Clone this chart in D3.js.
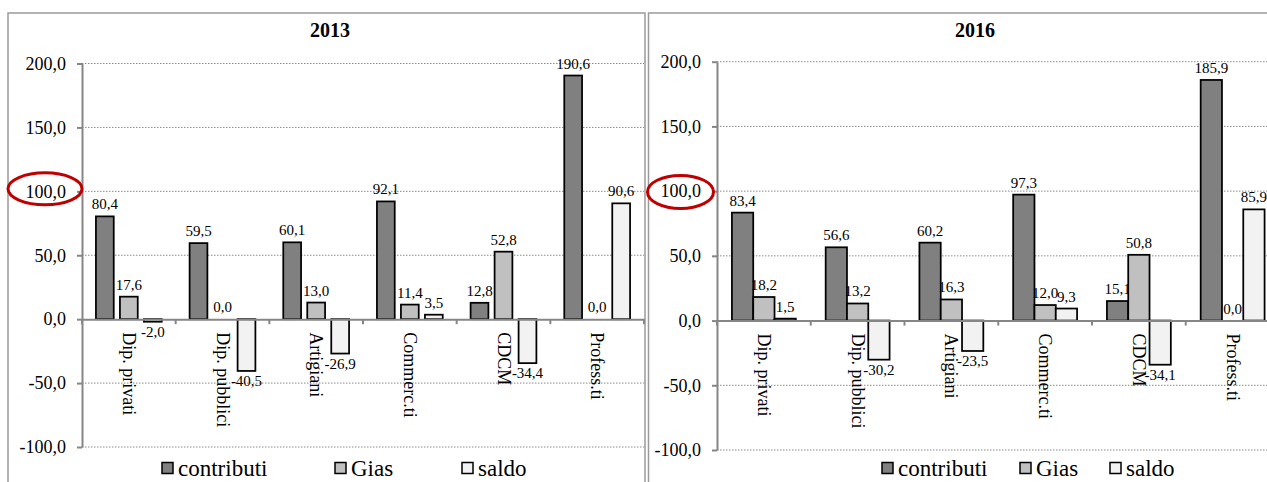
<!DOCTYPE html>
<html><head><meta charset="utf-8">
<script src="https://cdn.jsdelivr.net/npm/d3@7"></script>
<style>body{margin:0;background:#fff}svg{display:block;font-family:'Liberation Serif','Times New Roman',serif}</style>
</head><body><svg id="c" width="1267" height="482"></svg>
<script>
// ---- data ----
const categories = ["Dip. privati","Dip. pubblici","Artigiani","Commerc.ti","CDCM","Profess.ti"];
const seriesNames = ["contributi","Gias","saldo"];
const contributi2013 = [80.4,59.5,60.1,92.1,12.8,190.6];
const gias2013 = [17.6,0.0,13.0,11.4,52.8,0.0];
const saldo2013 = [-2.0,-40.5,-26.9,3.5,-34.4,90.6];
const contributi2016 = [83.4,56.6,60.2,97.3,15.1,185.9];
const gias2016 = [18.2,13.2,16.3,12.0,50.8,0.0];
const saldo2016 = [1.5,-30.2,-23.5,9.3,-34.1,85.9];
const yTicks = [-100,-50,0,50,100,150,200];
const panelTitles = ["2013","2016"];
const highlightTick = 100;

// ---- style / layout ----
const colors = ["#808080","#c0c0c0","#f2f2f2"];
const serif = "'Liberation Serif','Times New Roman',serif";
const loc = d3.formatLocale({decimal:",",thousands:".",grouping:[3],currency:["","€"],minus:"-"});
const fmt = loc.format(".1f");

const panels = [
  {title:panelTitles[0], series:[contributi2013,gias2013,saldo2013],
   bx:8, by:13, bw:637, titleX:330, x0:82, x1:644, yTop:63.5, yBot:447,
   barW:17.8, step:24, legendX:[162,335,462], ell:{dx:-37, dy:-2.5, rx:37, ry:16}},
  {title:panelTitles[1], series:[contributi2016,gias2016,saldo2016],
   bx:648.5, by:13, bw:700, titleX:975, x0:717, x1:1279.5, yTop:61.7, yBot:450,
   barW:21.3, step:21.3, legendX:[882,1020,1110], ell:{dx:-36.5, dy:0.8, rx:33, ry:16.5}}
];

const svg = d3.select("#c");

panels.forEach(p => {
  const g = svg.append("g").style("font-family",serif);
  // panel border
  g.append("rect").attr("x",p.bx).attr("y",p.by).attr("width",p.bw).attr("height",520)
    .attr("fill","none").attr("stroke","#9a9a9a").attr("stroke-width",1.5);

  const x = d3.scaleBand().domain(categories).range([p.x0,p.x1]).paddingInner(0).paddingOuter(0);
  const y = d3.scaleLinear().domain([yTicks[0], yTicks[yTicks.length-1]]).range([p.yBot,p.yTop]);

  // title
  g.append("text").attr("x",p.titleX).attr("y",37).attr("text-anchor","middle")
    .style("font-family",serif).style("font-size","20px").style("font-weight","bold").text(p.title);

  // gridlines
  g.append("g").selectAll("line").data(yTicks.filter(t=>t!==0)).join("line")
    .attr("x1",p.x0).attr("x2",p.x1).attr("y1",d=>y(d)).attr("y2",d=>y(d))
    .attr("stroke","#8a8a8a").attr("stroke-width",1).attr("stroke-dasharray","1.5,1.5");

  // bars
  const bw = x.bandwidth();
  p.series.forEach((vals,si) => {
    const sg = g.append("g");
    sg.selectAll("rect").data(vals).join("rect")
      .attr("x",(d,i)=> x(categories[i]) + bw/2 + (si-1)*p.step - p.barW/2)
      .attr("width",p.barW)
      .attr("y",d=> Math.min(y(d),y(0)))
      .attr("height",d=> Math.abs(y(d)-y(0)))
      .attr("fill",colors[si]).attr("stroke","#000").attr("stroke-width",1.75);
    sg.selectAll("text").data(vals).join("text")
      .attr("x",(d,i)=> x(categories[i]) + bw/2 + (si-1)*p.step)
      .attr("y",d=> d<0 ? y(d)+15 : y(d)-7)
      .attr("text-anchor","middle")
      .style("font-family",serif).style("font-size","15px").text(d=>fmt(d));
  });

  // value axis
  const ya = g.append("g").attr("transform",`translate(${p.x0},0)`)
    .call(d3.axisLeft(y).tickValues(yTicks).tickFormat(fmt).tickSizeInner(5).tickSizeOuter(0).tickPadding(11));
  ya.attr("font-family",null);
  ya.select(".domain").attr("stroke","#868686").attr("stroke-width",2);
  ya.selectAll(".tick line").attr("stroke","#868686").attr("stroke-width",2);
  ya.selectAll(".tick text").style("font-family",serif).style("font-size","18px").attr("fill","#000");

  // category axis at zero
  const xa = g.append("g").attr("transform",`translate(0,${y(0)})`)
    .call(d3.axisBottom(x).tickSizeInner(0).tickSizeOuter(0));
  xa.attr("font-family",null);
  xa.select(".domain").attr("stroke","#868686").attr("stroke-width",2);
  xa.selectAll(".tick text")
    .attr("transform","rotate(90)").attr("x",13).attr("y",0).attr("dy","0.33em")
    .style("text-anchor","start").style("font-family",serif).style("font-size","18px").attr("fill","#000");
  const bounds = categories.map(c=>x(c)).concat([x.range()[1]]);
  xa.append("g").selectAll("line").data(bounds).join("line")
    .attr("x1",d=>d).attr("x2",d=>d).attr("y1",0).attr("y2",5)
    .attr("stroke","#868686").attr("stroke-width",2);

  // legend
  const lg = g.append("g");
  seriesNames.forEach((n,i) => {
    lg.append("rect").attr("x",p.legendX[i]).attr("y",462.5).attr("width",11).attr("height",11)
      .attr("fill",colors[i]).attr("stroke","#000").attr("stroke-width",1.5);
    lg.append("text").attr("x",p.legendX[i]+16).attr("y",475.5)
      .style("font-family",serif).style("font-size","23px").text(n);
  });

  // highlight ellipse around the 100,0 tick label
  g.append("ellipse").attr("cx",p.x0+p.ell.dx).attr("cy",y(highlightTick)+p.ell.dy)
    .attr("rx",p.ell.rx).attr("ry",p.ell.ry)
    .attr("fill","none").attr("stroke","#c00000").attr("stroke-width",3);
});
</script></body></html>
